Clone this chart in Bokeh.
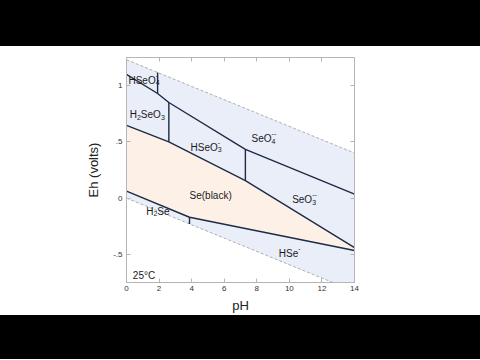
from bokeh.plotting import figure
from bokeh.models import ColumnDataSource, LinearAxis, FixedTicker, Div, Range1d
from bokeh.layouts import column
from bokeh.embed import file_html
from bokeh.resources import INLINE
from bokeh.core.properties import value

# ---- data -------------------------------------------------------------
# water stability limits (dashed)
ph_water = [0, 14]
eh_o2 = [1.23, 0.401]
eh_h2 = [0.0, -0.829]

# upper boundary: HSeO4-/H2SeO3, SeO4--/H2SeO3, SeO4--/HSeO3-, SeO4--/SeO3--
ph_upper = [0, 1.91, 2.6, 7.3, 14]
eh_upper = [1.10, 0.93, 0.85, 0.433, 0.036]
# top of Se(black) field
ph_se_top = [0, 2.6, 7.3, 14]
eh_se_top = [0.646, 0.50, 0.155, -0.44]
# bottom of Se(black) field
ph_se_bot = [0, 3.87, 14]
eh_se_bot = [0.062, -0.17, -0.466]
# vertical (acid-base) boundaries
ph_vert = [1.91, 2.6, 7.3, 3.87]
eh_vert_top = [1.117, 0.85, 0.433, -0.17]
eh_vert_bot = [0.93, 0.50, 0.155, -0.229]

# field labels: pieces (text, kind) and anchor (pH, Eh)
lab_parts = [
    [("HSeO", "n"), ("4", "sub"), ("-", "sup")],
    [("H", "n"), ("2", "sub"), ("SeO", "n"), ("3", "sub")],
    [("HSeO", "n"), ("3", "sub"), ("-", "sup")],
    [("SeO", "n"), ("4", "sub"), ("--", "sup")],
    [("Se(black)", "n")],
    [("SeO", "n"), ("3", "sub"), ("--", "sup")],
    [("H", "n"), ("2", "sub"), ("Se", "n")],
    [("HSe", "n"), ("-", "sup")],
    [("25°C", "n")],
]
lab_ph = [0.12, 0.20, 3.93, 7.68, 3.87, 10.17, 1.21, 9.35, 0.39]
lab_eh = [1.05, 0.743, 0.454, 0.53, 0.023, -0.015, -0.116, -0.495, -0.688]

x_ticks = [0, 2, 4, 6, 8, 10, 12, 14]
y_ticks = [-0.5, 0, 0.5, 1]
y_tick_labels = ["-.5", "0", ".5", "1"]

# ---- styling helpers --------------------------------------------------
FONT = "Liberation Sans"
MAIN, SMALL = 10, 7
W = {'H': .722, 'S': .667, 'e': .556, 'O': .778, '-': .333, '(': .333, ')': .333,
     'b': .556, 'l': .222, 'a': .556, 'c': .5, 'k': .5, '°': .4, 'C': .722}


def tw(s, size):
    return sum(W.get(ch, .556) for ch in s) * size


big = dict(x=[], y=[], text=[], xo=[], yo=[])
small = dict(x=[], y=[], text=[], xo=[], yo=[])
for parts, px, py in zip(lab_parts, lab_ph, lab_eh):
    cur = 0.0
    prev_sub_start = None
    for text, kind in parts:
        if kind == "n":
            dest, yo, start = big, 0, cur
            cur += tw(text, MAIN)
            prev_sub_start = None
        elif kind == "sub":
            dest, yo, start = small, 2.5, cur
            prev_sub_start = cur
            cur += tw(text, SMALL)
        else:
            dest, yo = small, -5
            if prev_sub_start is not None:
                start = prev_sub_start
                cur = max(cur, start + tw(text, SMALL))
            else:
                start = cur
                cur += tw(text, SMALL)
        dest["x"].append(px); dest["y"].append(py); dest["text"].append(text)
        dest["xo"].append(start); dest["yo"].append(yo)

# ---- figure -----------------------------------------------------------
p = figure(width=480, height=269, x_range=Range1d(0, 14), y_range=Range1d(-0.75, 1.25),
           output_backend="svg", toolbar_location=None,
           min_border_left=126, min_border_right=126, min_border_top=11, min_border_bottom=33,
           background_fill_color="white", border_fill_color="white",
           outline_line_color="#c4c4c4")
p.grid.visible = False

BLUE = "#e9eef9"
PEACH = "#fdf1e7"
LINE = "#1d2b45"

p.patch(ph_water + ph_water[::-1], eh_o2 + eh_h2[::-1], fill_color=BLUE, line_color=None)
p.patch(ph_se_top + ph_se_bot[::-1], eh_se_top + eh_se_bot[::-1], fill_color=PEACH, line_color=None)

p.line(ph_water, eh_o2, line_color="#9c9c9c", line_width=0.8, line_dash="3 2")
p.line(ph_water, eh_h2, line_color="#9c9c9c", line_width=0.8, line_dash="3 2")

for xs, ys in [(ph_upper, eh_upper), (ph_se_top, eh_se_top), (ph_se_bot, eh_se_bot)]:
    p.line(xs, ys, line_color=LINE, line_width=1.4)
p.segment(x0=ph_vert, y0=eh_vert_bot, x1=ph_vert, y1=eh_vert_top, line_color=LINE, line_width=1.4)

for d, size in ((big, MAIN), (small, SMALL)):
    p.text(x="x", y="y", text="text", x_offset="xo", y_offset="yo",
           source=ColumnDataSource(d), text_font=value(FONT),
           text_font_size=value(f"{size}px"), text_color="#1a1a1a",
           text_align="left", text_baseline="alphabetic")

AX = "#b5b5b5"
p.xaxis.ticker = FixedTicker(ticks=x_ticks)
p.yaxis.ticker = FixedTicker(ticks=y_ticks)
p.yaxis.major_label_overrides = {t: l for t, l in zip(y_ticks, y_tick_labels)}
p.xaxis.axis_label = "pH"
p.yaxis.axis_label = "Eh (volts)"
for ax in (p.xaxis, p.yaxis):
    ax.axis_line_color = AX
    ax.major_tick_line_color = AX
    ax.major_tick_in = 4
    ax.major_tick_out = 0
    ax.minor_tick_line_color = None
    ax.major_label_text_font = FONT
    ax.major_label_text_font_size = "8px"
    ax.major_label_text_color = "#333333"
    ax.axis_label_text_font = FONT
    ax.axis_label_text_font_size = "13px"
    ax.axis_label_text_font_style = "normal"
    ax.axis_label_text_color = "#222222"
p.xaxis.major_label_standoff = 3
p.xaxis.axis_label_standoff = 4
p.yaxis.major_label_standoff = 4
p.yaxis.axis_label_standoff = 9

for loc, tk in (("above", x_ticks), ("right", y_ticks)):
    a = LinearAxis(ticker=FixedTicker(ticks=tk), major_label_overrides={t: "" for t in tk},
                   major_label_text_font_size="1px", major_label_standoff=0,
                   axis_line_color=AX, major_tick_line_color=AX,
                   major_tick_in=4, major_tick_out=0, minor_tick_line_color=None)
    p.add_layout(a, loc)

top_bar = Div(width=480, height=46, styles={"background-color": "black"}, margin=0)
bot_bar = Div(width=480, height=44, styles={"background-color": "black"}, margin=0)
layout = column(top_bar, p, bot_bar, spacing=0)

open("out.html", "w").write(file_html(layout, INLINE))
